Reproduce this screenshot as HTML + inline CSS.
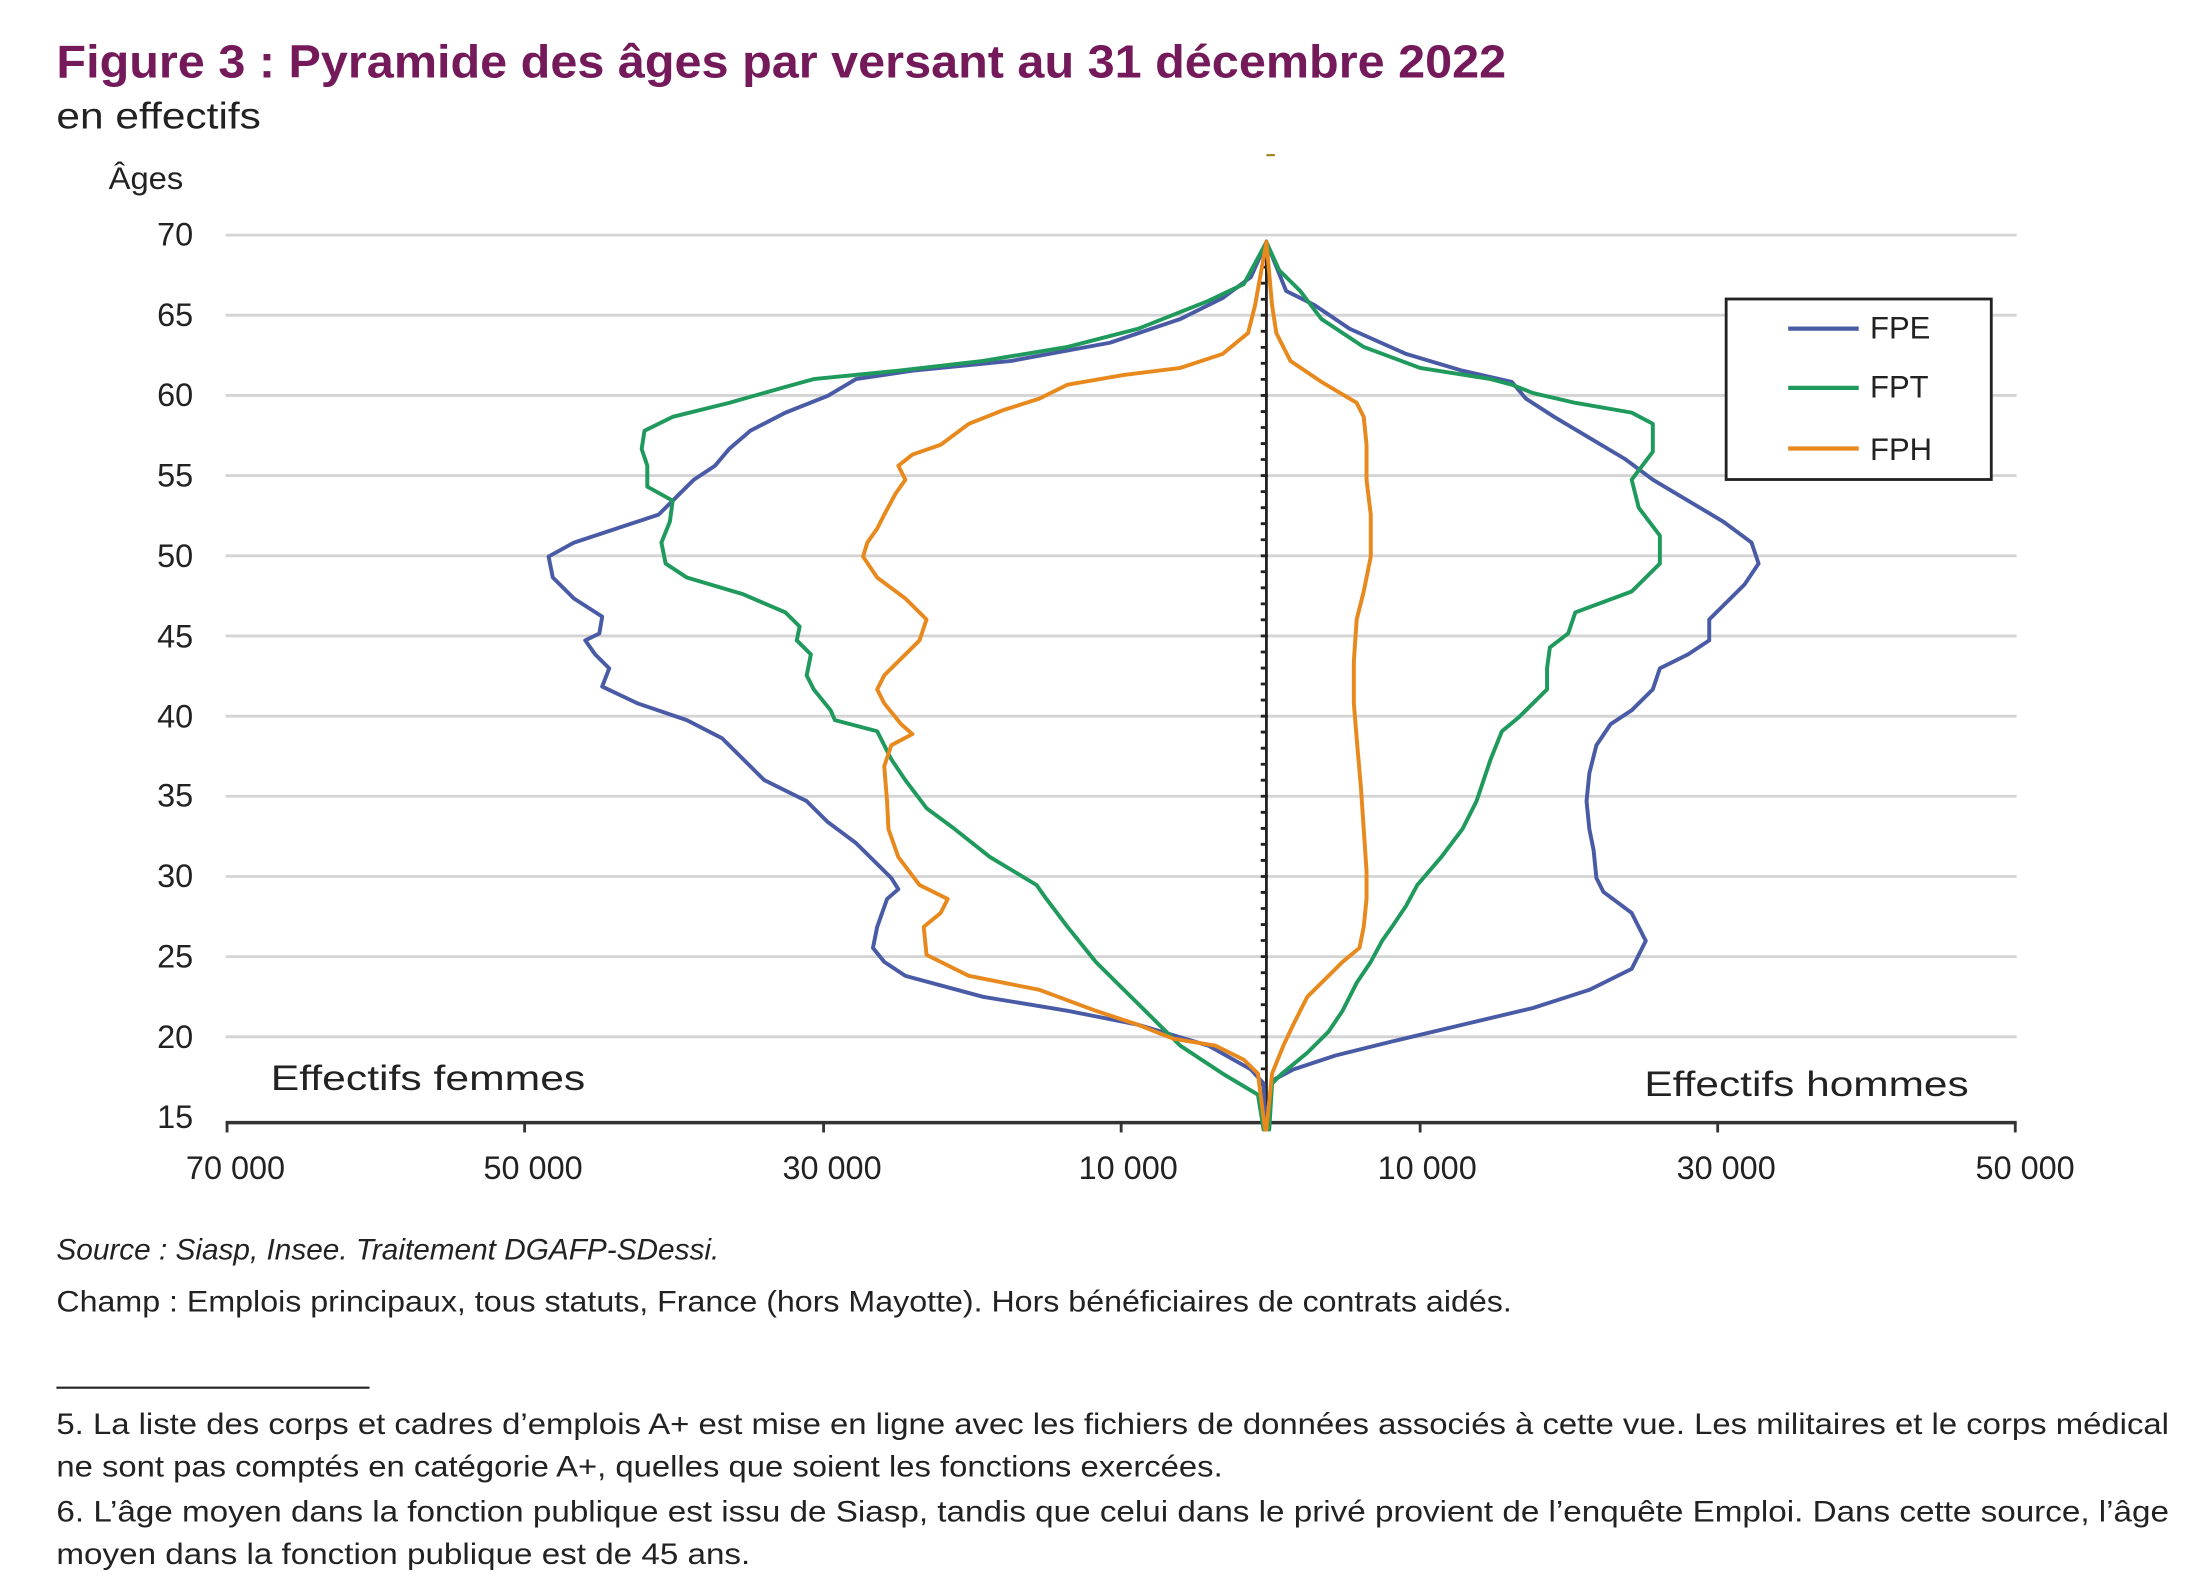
<!DOCTYPE html>
<html><head><meta charset="utf-8"><style>
html,body{margin:0;padding:0;background:#fff;}
svg{display:block;}
text{font-family:"Liberation Sans",sans-serif;}
</style></head><body>
<svg width="2200" height="1588" viewBox="0 0 1560 1126" xmlns="http://www.w3.org/2000/svg">
<text x="40" y="55" font-size="33" font-weight="bold" fill="#74195a" textLength="1028" lengthAdjust="spacingAndGlyphs">Figure 3 : Pyramide des âges par versant au 31 décembre 2022</text>
<text x="40" y="91" font-size="26" fill="#222" textLength="145" lengthAdjust="spacingAndGlyphs">en effectifs</text>
<text x="77" y="134" font-size="22" fill="#222" textLength="53" lengthAdjust="spacingAndGlyphs">Âges</text>
<g stroke="#d4d4d4" stroke-width="2">
<line x1="160" x2="1430" y1="166.7" y2="166.7"/><line x1="160" x2="1430" y1="223.5" y2="223.5"/>
<line x1="160" x2="1430" y1="280.4" y2="280.4"/><line x1="160" x2="1430" y1="337.2" y2="337.2"/>
<line x1="160" x2="1430" y1="394.1" y2="394.1"/><line x1="160" x2="1430" y1="450.9" y2="450.9"/>
<line x1="160" x2="1430" y1="507.8" y2="507.8"/><line x1="160" x2="1430" y1="564.6" y2="564.6"/>
<line x1="160" x2="1430" y1="621.5" y2="621.5"/><line x1="160" x2="1430" y1="678.3" y2="678.3"/>
<line x1="160" x2="1430" y1="735.2" y2="735.2"/>
</g>
<g font-size="23" fill="#222" text-anchor="end">
<text x="137" y="174">70</text><text x="137" y="231">65</text><text x="137" y="288">60</text>
<text x="137" y="345">55</text><text x="137" y="402">50</text><text x="137" y="459">45</text>
<text x="137" y="516">40</text><text x="137" y="572">35</text><text x="137" y="629">30</text>
<text x="137" y="686">25</text><text x="137" y="743">20</text><text x="137" y="800">15</text>
</g>
<line x1="160" x2="1430" y1="796" y2="796" stroke="#333" stroke-width="2.5"/>
<g stroke="#333" stroke-width="2">
<line x1="161" x2="161" y1="796" y2="803"/><line x1="372" x2="372" y1="796" y2="803"/>
<line x1="584" x2="584" y1="796" y2="803"/><line x1="795" x2="795" y1="796" y2="803"/>
<line x1="1007" x2="1007" y1="796" y2="803"/><line x1="1218" x2="1218" y1="796" y2="803"/>
<line x1="1429" x2="1429" y1="796" y2="803"/>
</g>
<g font-size="23" fill="#222" text-anchor="middle">
<text x="167" y="836">70 000</text><text x="378" y="836">50 000</text><text x="590" y="836">30 000</text>
<text x="800" y="836">10 000</text><text x="1012" y="836">10 000</text><text x="1224" y="836">30 000</text>
<text x="1436" y="836">50 000</text>
</g>
<line x1="898" x2="898" y1="170" y2="800" stroke="#222" stroke-width="2"/>
<g stroke="#222" stroke-width="2">
<path d="M894 178.1h4M894 189.4h4M894 200.8h4M894 212.2h4M894 223.5h5M894 234.9h4M894 246.3h4M894 257.6h4M894 269h4M894 280.4h5M894 291.8h4M894 303.1h4M894 314.5h4M894 325.8h4M894 337.2h5M894 348.6h4M894 360h4M894 371.3h4M894 382.7h4M894 394.1h5M894 405.4h4M894 416.8h4M894 428.2h4M894 439.5h4M894 450.9h5M894 462.3h4M894 473.7h4M894 485h4M894 496.4h4M894 507.8h5M894 519.1h4M894 530.5h4M894 541.9h4M894 553.2h4M894 564.6h5M894 576h4M894 587.4h4M894 598.7h4M894 610.1h4M894 621.5h5M894 632.8h4M894 644.2h4M894 655.6h4M894 666.9h4M894 678.3h5M894 689.7h4M894 701h4M894 712.4h4M894 723.8h4M894 735.2h5M894 746.5h4M894 757.9h4M894 769.3h4M894 780.6h4"/>
</g>
<line x1="898" x2="904" y1="110" y2="110" stroke="#a08020" stroke-width="1.5"/>
<g fill="none" stroke-width="2.8" stroke-linejoin="round" stroke-linecap="round" transform="matrix(1,0,0,0.991,-3,3.2)">
<polyline stroke="#4a5ba6" points="901,170 890,195 870,210 840,225 790,242 720,255 650,262 610,268 590,280 560,292 535,305 520,318 510,330 495,340 485,350 470,365 440,375 410,385 392,395 395,410 410,425 430,438 428,450 418,455 425,465 435,475 430,488 455,500 490,512 515,525 530,540 545,555 575,570 590,585 610,600 625,615 635,625 640,633 632,640 625,660 622,675 630,685 645,695 700,710 760,720 810,730 860,745 890,762 899,772 900,800"/>
<polyline stroke="#4a5ba6" points="901,170 915,205 935,215 960,232 1000,250 1040,262 1075,270 1085,282 1105,295 1130,310 1155,325 1175,340 1200,355 1225,370 1245,385 1250,400 1240,415 1225,430 1215,440 1215,455 1200,465 1180,475 1175,490 1160,505 1145,515 1135,530 1130,550 1128,570 1130,590 1133,605 1135,625 1140,635 1160,650 1170,670 1160,690 1130,705 1090,718 1040,730 990,742 950,752 920,762 905,770 901,800"/>
<polyline stroke="#1f9a5c" points="901,170 885,200 860,212 810,232 760,245 700,255 640,262 580,268 555,275 520,285 480,295 460,305 458,318 462,330 462,345 480,355 478,370 472,385 475,400 490,410 530,422 560,435 570,445 568,455 578,465 575,480 580,490 592,505 595,512 625,520 635,540 645,555 660,575 680,590 705,610 738,630 745,640 760,660 780,685 800,705 820,725 840,745 870,765 895,780 899,805"/>
<polyline stroke="#1f9a5c" points="901,170 910,190 925,205 940,225 970,245 1010,260 1060,268 1075,272 1090,278 1120,285 1160,292 1175,300 1175,320 1160,340 1165,360 1180,380 1180,400 1160,420 1120,435 1115,450 1102,460 1100,475 1100,490 1080,510 1068,520 1060,540 1050,570 1040,590 1025,610 1008,630 1000,645 990,660 983,670 975,685 965,700 955,720 945,735 930,750 912,765 905,772 903,805"/>
<polyline stroke="#e8891e" points="901,170 893,215 888,235 870,250 840,260 800,265 760,272 740,282 715,290 690,300 670,315 650,322 640,330 645,340 638,350 630,365 625,375 618,385 615,395 625,410 645,425 660,440 655,455 645,465 630,480 625,490 630,500 642,515 650,522 635,530 630,545 632,570 633,590 640,610 655,630 675,640 670,650 658,660 660,680 690,695 740,705 780,720 810,730 835,740 865,745 885,755 895,765 900,805"/>
<polyline stroke="#e8891e" points="901,170 905,215 908,235 918,255 940,270 965,285 970,295 972,315 972,340 975,365 975,395 970,420 965,440 963,470 963,500 965,525 968,560 970,590 972,620 972,640 970,660 967,675 955,685 940,700 930,710 920,730 913,745 905,765 901,805"/>
</g>
<rect x="1224" y="212" width="188" height="128" fill="#fff" stroke="#222" stroke-width="2"/>
<g stroke-width="3">
<line x1="1268" x2="1318" y1="233" y2="233" stroke="#4a5ba6"/>
<line x1="1268" x2="1318" y1="275" y2="275" stroke="#1f9a5c"/>
<line x1="1268" x2="1318" y1="318" y2="318" stroke="#e8891e"/>
</g>
<g font-size="22" fill="#222">
<text x="1326" y="240">FPE</text><text x="1326" y="282">FPT</text><text x="1326" y="326">FPH</text>
</g>
<text x="192" y="773" font-size="25" fill="#222" textLength="223" lengthAdjust="spacingAndGlyphs">Effectifs femmes</text>
<text x="1166" y="777" font-size="25" fill="#222" textLength="230" lengthAdjust="spacingAndGlyphs">Effectifs hommes</text>
<text x="40" y="893" font-size="21" font-style="italic" fill="#222" textLength="470" lengthAdjust="spacingAndGlyphs">Source : Siasp, Insee. Traitement DGAFP-SDessi.</text>
<text x="40" y="930" font-size="21" fill="#222" textLength="1032" lengthAdjust="spacingAndGlyphs">Champ : Emplois principaux, tous statuts, France (hors Mayotte). Hors bénéficiaires de contrats aidés.</text>
<line x1="40" x2="262" y1="984" y2="984" stroke="#222" stroke-width="1.5"/>
<g font-size="21" fill="#222">
<text x="40" y="1017" textLength="1498" lengthAdjust="spacingAndGlyphs">5.  La liste des corps et cadres d’emplois A+ est mise en ligne avec les fichiers de données associés à cette vue. Les militaires et le corps médical</text>
<text x="40" y="1047" textLength="827" lengthAdjust="spacingAndGlyphs">ne sont pas comptés en catégorie A+, quelles que soient les fonctions exercées.</text>
<text x="40" y="1079" textLength="1498" lengthAdjust="spacingAndGlyphs">6.  L’âge moyen dans la fonction publique est issu de Siasp, tandis que celui dans le privé provient de l’enquête Emploi. Dans cette source, l’âge</text>
<text x="40" y="1109" textLength="492" lengthAdjust="spacingAndGlyphs">moyen dans la fonction publique est de 45 ans.</text>
</g>
</svg>
</body></html>
